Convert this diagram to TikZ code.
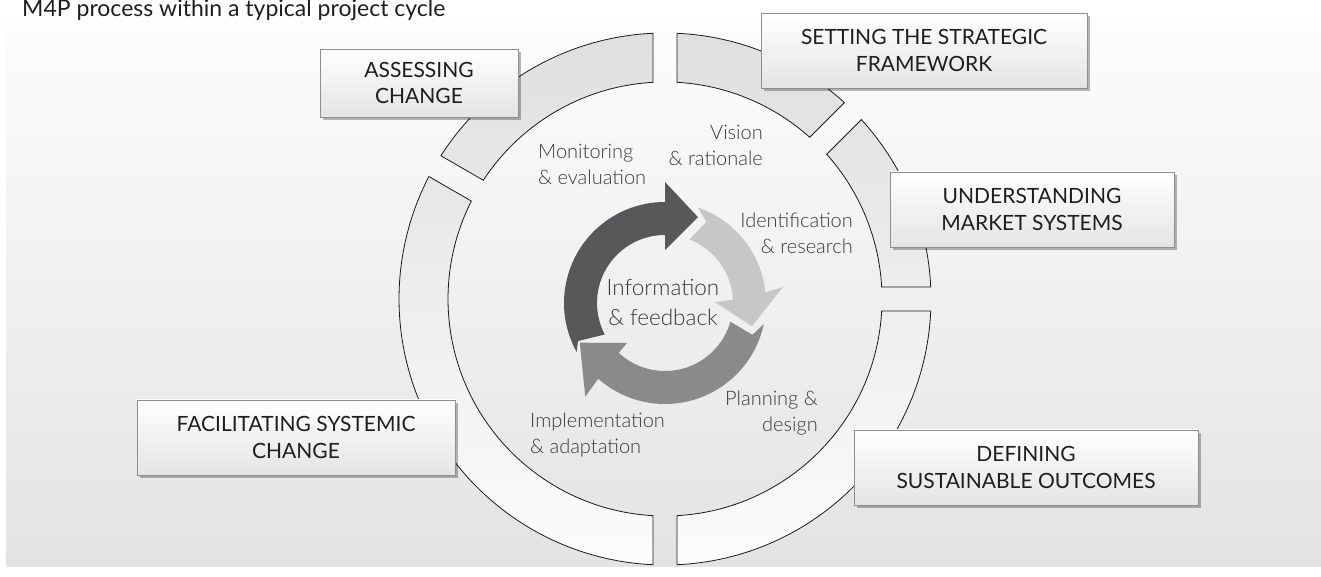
\documentclass[tikz,border=0pt]{standalone}
\usepackage{fontspec}
\setmainfont{Lato}
\newfontfamily\lightfont{Lato Light}
\usetikzlibrary{shadows}
\definecolor{bgtop}{HTML}{FDFDFD}
\definecolor{bgbot}{HTML}{E3E3E3}
\definecolor{ringtop}{HTML}{DFDFDF}
\definecolor{ringbot}{HTML}{FCFCFC}
\definecolor{ringline}{HTML}{1A1A1A}
\definecolor{boxline}{HTML}{8E8E8E}
\definecolor{boxbot}{HTML}{E4E4E4}
\definecolor{txt}{HTML}{1E1E1E}
\definecolor{labtxt}{HTML}{3A3A3A}
\definecolor{arrdark}{HTML}{58585A}
\definecolor{arrlight}{HTML}{C7C7C7}
\definecolor{arrmid}{HTML}{8A8A8A}
\tikzset{
  stagebox/.style={draw=boxline, line width=0.8pt, top color=white, bottom color=boxbot,
    align=center, text=txt, font=\fontsize{21}{26.5}\selectfont, inner sep=0pt,
    drop shadow={shadow xshift=3pt, shadow yshift=-3.5pt, opacity=0.28, fill=black}},
  innerlab/.style={text=labtxt, font=\lightfont\fontsize{20}{26}\selectfont, inner sep=0pt},
  ringfill/.style={top color=ringtop, bottom color=ringbot, draw=ringline, line width=0.8pt},
}
\begin{document}
\begin{tikzpicture}[x=1pt,y=1pt]
\useasboundingbox (0,0) rectangle (1321,577);
\clip (0,0) rectangle (1321,577);
% background
\shade[top color=bgtop, bottom color=bgbot] (6,10) rectangle (1321,557);
% title
\node[anchor=base west, text=txt, font=\fontsize{23}{28}\selectfont, inner sep=0pt] (title) at (22,560) {M4P process within a typical project cycle};
% outer ring
\begin{scope}[shift={(665,278)}]
\coordinate (ringc) at (0,0);
\shade[ringfill]
  (47.586:266) arc[start angle=47.586, end angle=87.414, radius=266] -- (86.830:217) arc[start angle=86.830, end angle=48.170, radius=217] -- cycle
  (2.586:266) arc[start angle=2.586, end angle=42.414, radius=266] -- (41.830:217) arc[start angle=41.830, end angle=3.170, radius=217] -- cycle
  (-87.414:266) arc[start angle=-87.414, end angle=-2.586, radius=266] -- (-3.170:217) arc[start angle=-3.170, end angle=-86.830, radius=217] -- cycle
  (152.586:266) arc[start angle=152.586, end angle=267.414, radius=266] -- (266.830:217) arc[start angle=266.830, end angle=153.170, radius=217] -- cycle
  (92.586:266) arc[start angle=92.586, end angle=147.414, radius=266] -- (146.830:217) arc[start angle=146.830, end angle=93.170, radius=217] -- cycle;
\end{scope}
% inner cycle arrows
\begin{scope}[shift={(665,274)}]
\coordinate (cyclec) at (0,0);
\fill[arrdark] (209:101) arc[start angle=209, end angle=90, radius=101] -- (90:121) -- (69:92) -- (90:53) -- (90:68) arc[start angle=90, end angle=207.6, radius=68] -- (203.6:95) -- cycle;
\fill[arrlight] (71:101) arc[start angle=71, end angle=6, radius=101] -- (7.7:119) -- (-15:90) -- (1:50) -- (2.7:68) arc[start angle=2.7, end angle=69, radius=68] -- (63:91) -- cycle;
\fill[arrmid] (-12:101) arc[start angle=-12, end angle=-131.4, radius=101] -- (-130.4:123) -- (-155:94) -- (-133.5:55) -- (-132.9:68) arc[start angle=-132.9, end angle=-16, radius=68] -- (-20:93) -- cycle;
\end{scope}
% inner labels
\node[innerlab, anchor=base west] (monit) at (538,418) {\begin{tabular}[t]{@{}l@{}}Monitoring\\\& evaluation\end{tabular}};
\node[innerlab, anchor=base east] (vision) at (763,437) {\begin{tabular}[t]{@{}r@{}}Vision\\\& rationale\end{tabular}};
\node[innerlab, anchor=base east] (ident) at (853,349) {\begin{tabular}[t]{@{}r@{}}Identification\\\& research\end{tabular}};
\node[innerlab, anchor=base east] (plan) at (818,171) {\begin{tabular}[t]{@{}r@{}}Planning \&\\design\end{tabular}};
\node[innerlab, anchor=base west] (impl) at (530,149) {\begin{tabular}[t]{@{}l@{}}Implementation\\\& adaptation\end{tabular}};
\node[text=labtxt, font=\lightfont\fontsize{22.5}{30}\selectfont, inner sep=0pt, anchor=base] (info) at (663,281) {\begin{tabular}[t]{@{}c@{}}Information\\\& feedback\end{tabular}};
% stage boxes
\node[stagebox, minimum width=198pt, minimum height=68pt] (assess) at (419,494) {ASSESSING\\CHANGE};
\node[stagebox, minimum width=326pt, minimum height=75pt] (setting) at (924,526.5) {SETTING THE STRATEGIC\\FRAMEWORK};
\node[stagebox, minimum width=284pt, minimum height=75pt] (underst) at (1032,367.5) {UNDERSTANDING\\MARKET SYSTEMS};
\node[stagebox, minimum width=344pt, minimum height=75pt] (defining) at (1026,109.5) {DEFINING\\SUSTAINABLE OUTCOMES};
\node[stagebox, minimum width=318pt, minimum height=75pt] (facil) at (296,139.5) {FACILITATING SYSTEMIC\\CHANGE};
\end{tikzpicture}
\end{document}
